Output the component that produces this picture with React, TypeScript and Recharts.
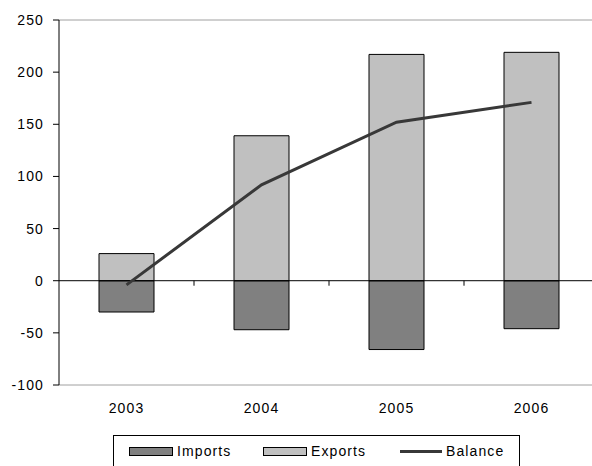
import React from "react";
import {
  ComposedChart,
  Bar,
  Line,
  XAxis,
  YAxis,
  ReferenceLine,
} from "recharts";

const years = ["2003", "2004", "2005", "2006"];
const imports = [-30, -47, -66, -46];
const exportsValues = [26, 139, 217, 219];
const balance = [-4, 92, 152, 171];
const yTicks = [-100, -50, 0, 50, 100, 150, 200, 250];

const series = [
  { name: "Imports", color: "#808080", kind: "bar" },
  { name: "Exports", color: "#c0c0c0", kind: "bar" },
  { name: "Balance", color: "#383838", kind: "line" },
];

const data = years.map((year, i) => ({
  year,
  Imports: imports[i],
  Exports: exportsValues[i],
  Balance: balance[i],
}));

const FONT = "'Liberation Sans', Arial, sans-serif";

// zero line with small category separators hanging below it
const ZeroLine = (props: any) => {
  const { x1, x2, y1 } = props;
  const step = (x2 - x1) / years.length;
  const marks = years.slice(1).map((_, i) => x1 + step * (i + 1));
  return (
    <g>
      <line x1={x1} x2={x2} y1={y1} y2={y1} stroke="#000" strokeWidth={1} />
      {marks.map((mx) => (
        <line key={mx} x1={mx} x2={mx} y1={y1} y2={y1 + 5} stroke="#000" />
      ))}
    </g>
  );
};

const Legend = () => (
  <div
    style={{
      position: "absolute",
      left: 113,
      top: 435,
      width: 407,
      height: 34,
      border: "1px solid #000",
      display: "flex",
      alignItems: "center",
      paddingLeft: 15,
      boxSizing: "border-box",
      fontFamily: FONT,
      fontSize: 14,
      letterSpacing: 1.1,
      color: "#000",
    }}
  >
    {series.map((s, i) => (
      <div
        key={s.name}
        style={{
          display: "flex",
          alignItems: "center",
          width: i === 0 ? 134 : i === 1 ? 137 : undefined,
          marginTop: -2,
        }}
      >
        {s.kind === "bar" ? (
          <div
            style={{
              width: 42,
              height: 7,
              background: s.color,
              border: "1px solid #000",
            }}
          />
        ) : (
          <div style={{ width: 42, height: 3, background: s.color }} />
        )}
        <span style={{ marginLeft: 4 }}>{s.name}</span>
      </div>
    ))}
  </div>
);

const App = () => {
  return (
    <div
      style={{
        position: "fixed",
        left: 0,
        top: 0,
        width: 592,
        height: 466,
        overflow: "hidden",
        background: "#fff",
      }}
    >
      <ComposedChart
        width={600}
        height={420}
        data={data}
        stackOffset="sign"
        margin={{ top: 20, right: 1, left: 0, bottom: 0 }}
      >
        <XAxis
          dataKey="year"
          height={35}
          axisLine={{ stroke: "#a0a0a0" }}
          tickLine={false}
          tickSize={0}
          tickMargin={18}
          tick={{ fill: "#000", fontSize: 14, fontFamily: FONT, letterSpacing: 1.1 }}
        />
        <YAxis
          width={59}
          domain={[-100, 250]}
          ticks={yTicks}
          interval={0}
          axisLine={{ stroke: "#000" }}
          tickLine={{ stroke: "#000" }}
          tickSize={6}
          tickMargin={9}
          tick={{ fill: "#000", fontSize: 14, fontFamily: FONT, letterSpacing: 1.1 }}
        />
        <ReferenceLine y={250} stroke="#a0a0a0" />
        <Bar
          dataKey="Imports"
          stackId="trade"
          fill={series[0].color}
          stroke="#000"
          barSize={55}
          isAnimationActive={false}
        />
        <Bar
          dataKey="Exports"
          stackId="trade"
          fill={series[1].color}
          stroke="#000"
          barSize={55}
          isAnimationActive={false}
        />
        <ReferenceLine y={0} shape={<ZeroLine />} />
        <Line
          dataKey="Balance"
          type="linear"
          stroke={series[2].color}
          strokeWidth={3}
          dot={false}
          activeDot={false}
          isAnimationActive={false}
        />
      </ComposedChart>
      <Legend />
    </div>
  );
};

export default App;
